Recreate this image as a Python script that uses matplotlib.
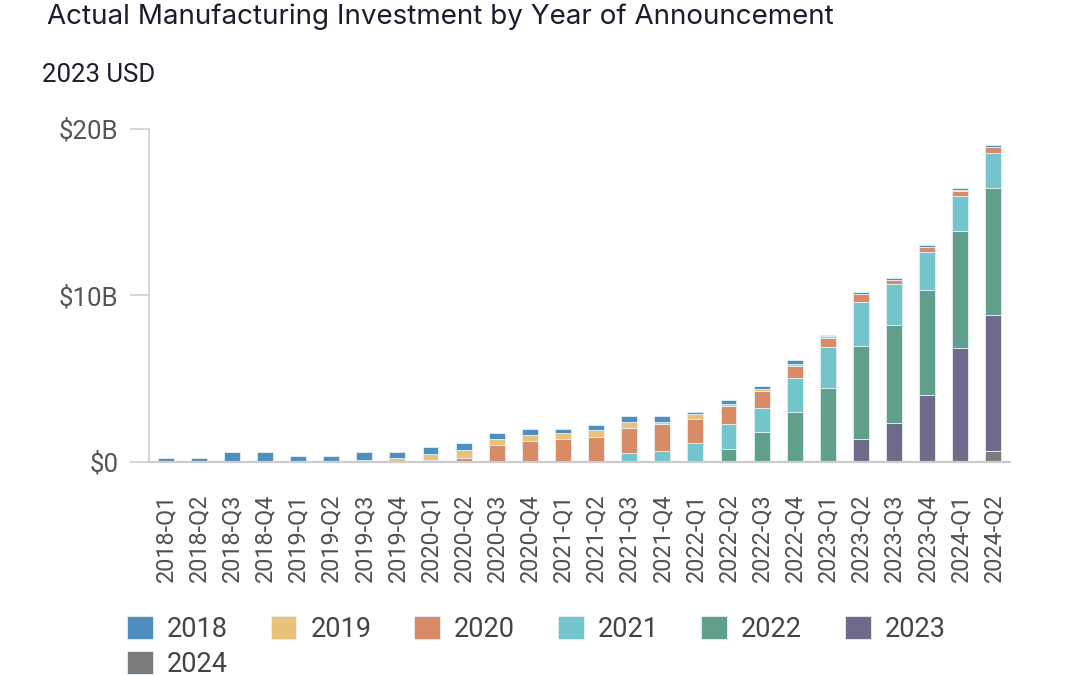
import numpy as np
import matplotlib.pyplot as plt
from matplotlib.patches import Patch

plt.rcParams['font.family'] = ['Roboto', 'DejaVu Sans']

# 季度标签
quarters = ["2018-Q1", "2018-Q2", "2018-Q3", "2018-Q4",
            "2019-Q1", "2019-Q2", "2019-Q3", "2019-Q4",
            "2020-Q1", "2020-Q2", "2020-Q3", "2020-Q4",
            "2021-Q1", "2021-Q2", "2021-Q3", "2021-Q4",
            "2022-Q1", "2022-Q2", "2022-Q3", "2022-Q4",
            "2023-Q1", "2023-Q2", "2023-Q3", "2023-Q4",
            "2024-Q1", "2024-Q2"]

# 各公告年份的投资额 (十亿美元)
y2018 = [0.25, 0.25, 0.58, 0.58, 0.38, 0.38, 0.48, 0.36, 0.38, 0.38, 0.36, 0.36, 0.26,
         0.35, 0.36, 0.31, 0.12, 0.25, 0.22, 0.26, 0.02, 0.08, 0.10, 0.10, 0.15, 0.09]
y2019 = [0, 0, 0, 0, 0, 0, 0.14, 0.26, 0.36, 0.48, 0.36, 0.36, 0.36,
         0.38, 0.36, 0.15, 0.28, 0.16, 0.12, 0.12, 0.12, 0.04, 0.02, 0.00, 0.03, 0.03]
y2020 = [0, 0, 0, 0, 0, 0, 0, 0, 0.14, 0.26, 1.00, 1.24, 1.38,
         1.52, 1.50, 1.62, 1.43, 1.08, 1.01, 0.72, 0.58, 0.48, 0.24, 0.28, 0.33, 0.36]
y2021 = [0, 0, 0, 0, 0, 0, 0, 0, 0, 0, 0, 0, 0,
         0, 0.52, 0.66, 1.17, 1.48, 1.46, 2.06, 2.45, 2.60, 2.48, 2.32, 2.09, 2.08]
y2022 = [0, 0, 0, 0, 0, 0, 0, 0, 0, 0, 0, 0, 0,
         0, 0, 0, 0, 0.78, 1.78, 2.98, 4.44, 5.63, 5.89, 6.27, 7.01, 7.61]
y2023 = [0, 0, 0, 0, 0, 0, 0, 0, 0, 0, 0, 0, 0,
         0, 0, 0, 0, 0, 0, 0, 0, 1.36, 2.32, 4.04, 6.86, 8.21]
y2024 = [0, 0, 0, 0, 0, 0, 0, 0, 0, 0, 0, 0, 0,
         0, 0, 0, 0, 0, 0, 0, 0, 0, 0, 0, 0, 0.64]

years = ["2018", "2019", "2020", "2021", "2022", "2023", "2024"]
series = [y2018, y2019, y2020, y2021, y2022, y2023, y2024]
colors = ["#4f8fc0", "#e8c17b", "#d98a66", "#73c4cb", "#5f9f8b", "#6f6a89", "#7b7b7b"]

fig = plt.figure(figsize=(10.8, 6.75), dpi=100)
ax = fig.add_axes([149 / 1080, 1 - 462 / 675, 861 / 1080, 333.3 / 675])

x = np.arange(len(quarters))
bottom = np.zeros(len(quarters))
# 从2024开始往上堆叠
for i in range(len(series) - 1, -1, -1):
    vals = np.array(series[i])
    ax.bar(x, vals, 0.48, bottom=bottom, color=colors[i],
           edgecolor="#e4f1f3", linewidth=0.6)
    bottom += vals

ax.set_xlim(-0.5, len(quarters) - 0.5)
ax.set_ylim(0, 20)
ax.set_yticks([0, 10, 20])
ax.set_yticklabels(["$0", "$10B", "$20B"])
ax.set_xticks(x)
ax.set_xticklabels(quarters, rotation=90)

for s in ["top", "right"]:
    ax.spines[s].set_visible(False)
ax.spines["left"].set_color("#cccccc")
ax.spines["left"].set_linewidth(1.1)
ax.spines["bottom"].set_color("#cccccc")
ax.spines["bottom"].set_linewidth(1.6)
ax.tick_params(axis="y", length=13.7, width=1.1, color="#cccccc",
               pad=8.5, labelsize=18.5, labelcolor="#555555")
ax.tick_params(axis="x", length=0, pad=22.5, labelsize=16.8, labelcolor="#505050")

fig.text(47 / 1080, 1 - 24.5 / 675, "Actual Manufacturing Investment by Year of Announcement",
         fontsize=20, color="#1c1c2b", ha="left", va="baseline", family=["Inter", "Roboto"])
fig.text(42 / 1080, 1 - 82 / 675, "2023 USD",
         fontsize=18.5, color="#1c1c2b", ha="left", va="baseline")

# 图例按行排列: matplotlib 是按列填充, 所以调整顺序
handles = [Patch(facecolor=c, edgecolor="#e4f1f3", linewidth=0.6) for c in colors]
order = [0, 6, 1, 2, 3, 4, 5]
fig.legend([handles[k] for k in order], [years[k] for k in order],
           ncol=6, loc="upper left", bbox_to_anchor=(127 / 1080, 1 - 616 / 675),
           frameon=False, fontsize=19.5, labelcolor="#444444",
           handlelength=0.95, handleheight=0.95, handletextpad=0.52,
           columnspacing=1.58, labelspacing=0.28, borderpad=0, borderaxespad=0)

fig.savefig("out.png", dpi=100)
